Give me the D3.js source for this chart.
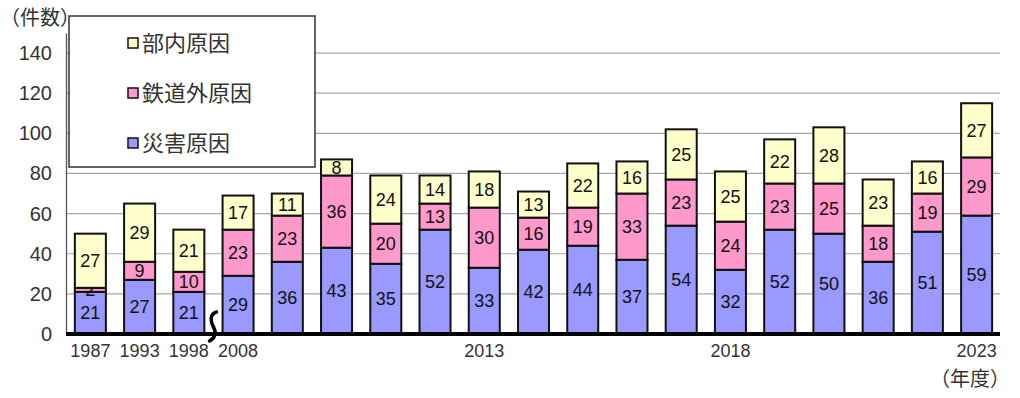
<!DOCTYPE html>
<html>
<head>
<meta charset="utf-8">
<script src="https://cdn.jsdelivr.net/npm/d3@7"></script>
<style>
  body { margin: 0; background: #fff; }
  text { font-family: "Liberation Sans", Arial, "Noto Sans CJK JP", sans-serif; }
  .jp { font-family: "Noto Sans CJK JP", sans-serif; }
</style>
</head>
<body>
<div id="chart"></div>
<script>
const width = 1020;
const height = 398;

// years shown (gap between 1998 and 2008)
const years = ['1987', '1993', '1998', '2008', '2009', '2010', '2011', '2012', '2013',
  '2014', '2015', '2016', '2017', '2018', '2019', '2020', '2021', '2022', '2023'];
const tickYears = ['1987', '1993', '1998', '2008', '2013', '2018', '2023'];

const disaster = [21, 27, 21, 29, 36, 43, 35, 52, 33, 42, 44, 37, 54, 32, 52, 50, 36, 51, 59];
const outside  = [2, 9, 10, 23, 23, 36, 20, 13, 30, 16, 19, 33, 23, 24, 23, 25, 18, 19, 29];
const internal = [27, 29, 21, 17, 11, 8, 24, 14, 18, 13, 22, 16, 25, 25, 22, 28, 23, 16, 27];

const seriesNames = ['災害原因', '鉄道外原因', '部内原因'];
const seriesColors = ['#9999ff', '#ff99cc', '#ffffcc'];
const yTicks = [0, 20, 40, 60, 80, 100, 120, 140];

let rows = years.map((y, i) => ({year: y, s0: disaster[i], s1: outside[i], s2: internal[i]}));
let stack = d3.stack().keys(['s0', 's1', 's2'])(rows);

let svg = d3.select('#chart').append('svg')
    .attr('width', width)
    .attr('height', height);

let x = d3.scaleBand().domain(years).range([66, 1001]).paddingInner(0.37).paddingOuter(0.18);
let y = d3.scaleLinear().domain([0, 150]).range([334, 33]);

// gridlines
svg.append('g')
    .selectAll('line')
    .data(yTicks.filter(d => d > 0))
    .enter().append('line')
    .attr('x1', 66).attr('x2', 1000)
    .attr('y1', d => y(d)).attr('y2', d => y(d))
    .attr('stroke', '#a8a8a8').attr('stroke-width', 1.2);

// y axis
let yAxis = svg.append('g')
    .attr('transform', 'translate(66,0)')
    .call(d3.axisLeft(y).tickValues(yTicks).tickSize(0).tickPadding(14));
yAxis.select('.domain').attr('stroke', '#555').attr('stroke-width', 1.3);
yAxis.selectAll('text').attr('font-size', 20).attr('fill', '#333');

// bars
let layer = svg.selectAll('.layer')
    .data(stack)
    .enter().append('g')
    .attr('class', 'layer')
    .attr('fill', (d, i) => seriesColors[i]);

layer.selectAll('rect')
    .data(d => d)
    .enter().append('rect')
    .attr('x', d => x(d.data.year))
    .attr('y', d => y(d[1]))
    .attr('width', x.bandwidth())
    .attr('height', d => y(d[0]) - y(d[1]))
    .attr('stroke', '#111')
    .attr('stroke-width', 2);

layer.selectAll('text')
    .data(d => d)
    .enter().append('text')
    .attr('x', d => x(d.data.year) + x.bandwidth() / 2)
    .attr('y', d => (y(d[0]) + y(d[1])) / 2)
    .attr('dy', '0.36em')
    .attr('text-anchor', 'middle')
    .attr('font-size', 18)
    .attr('fill', '#111')
    .text(d => d[1] - d[0]);

// x axis
let xAxis = svg.append('g')
    .attr('transform', 'translate(0,334)')
    .call(d3.axisBottom(x).tickValues(tickYears).tickSize(0).tickPadding(10));
xAxis.select('.domain').remove();
xAxis.selectAll('text').attr('font-size', 18).attr('fill', '#333');

svg.append('line')
    .attr('x1', 66).attr('x2', 1000)
    .attr('y1', 334).attr('y2', 334)
    .attr('stroke', '#000').attr('stroke-width', 4);

// break mark between 1998 and 2008
let bx = (x('1998') + x.bandwidth() + x('2008')) / 2;
svg.append('path')
    .attr('d', 'M' + (bx + 3) + ',312 C' + (bx - 4) + ',314 ' + (bx - 3) + ',322 ' + bx + ',327 S' + (bx + 2) + ',338 ' + (bx - 4) + ',341')
    .attr('fill', 'none')
    .attr('stroke', '#000')
    .attr('stroke-width', 3.5)
    .attr('stroke-linecap', 'round');

// axis titles
svg.append('text').attr('class', 'jp')
    .attr('x', 0).attr('y', 25)
    .attr('font-size', 20).attr('fill', '#333')
    .text('（件数）');
svg.append('text').attr('class', 'jp')
    .attr('x', 1010).attr('y', 386)
    .attr('text-anchor', 'end')
    .attr('font-size', 20).attr('fill', '#333')
    .text('（年度）');

// legend
let legend = svg.append('g');
legend.append('rect')
    .attr('x', 69).attr('y', 16)
    .attr('width', 246).attr('height', 151)
    .attr('fill', '#fff')
    .attr('stroke', '#333')
    .attr('stroke-width', 1.5);

let legendItems = [2, 1, 0];
legendItems.forEach((k, i) => {
  let ly = 43 + i * 50;
  legend.append('rect')
      .attr('x', 128).attr('y', ly - 5)
      .attr('width', 10).attr('height', 10)
      .attr('fill', seriesColors[k])
      .attr('stroke', '#111').attr('stroke-width', 1.5);
  legend.append('text').attr('class', 'jp')
      .attr('x', 142).attr('y', ly)
      .attr('dy', '0.36em')
      .attr('font-size', 22).attr('fill', '#333')
      .text(seriesNames[k]);
});
</script>
</body>
</html>
